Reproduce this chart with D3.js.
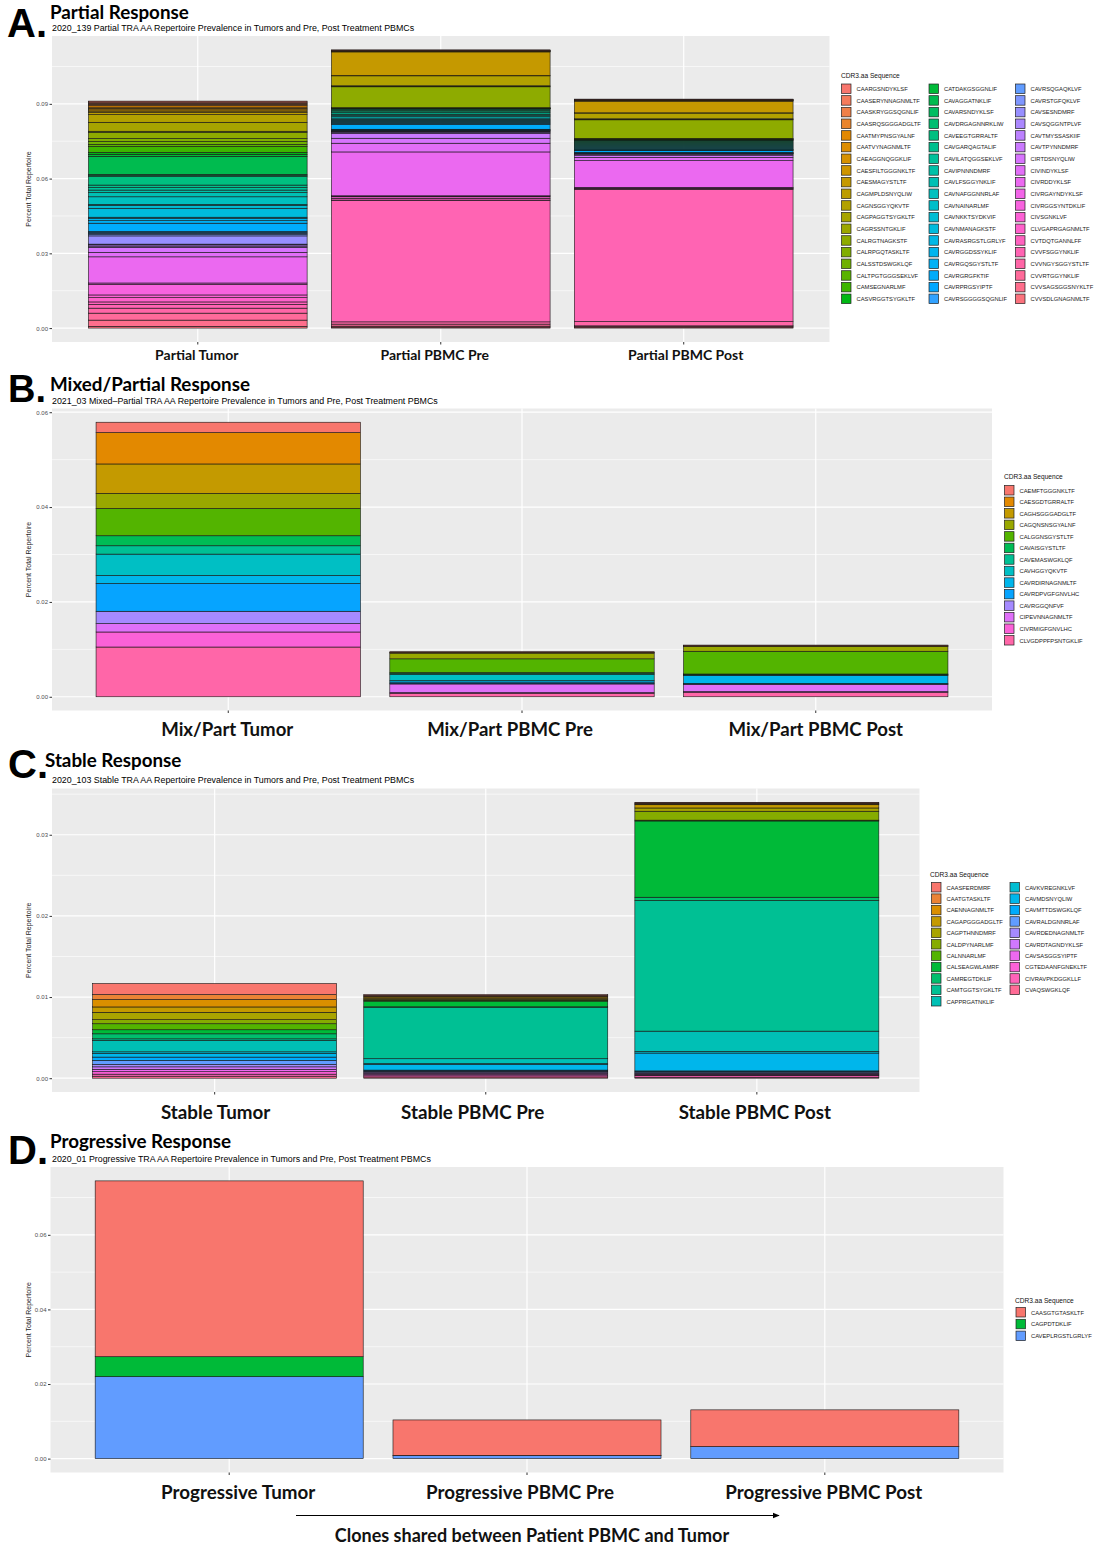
<!DOCTYPE html>
<html>
<head>
<meta charset="utf-8">
<script src="https://cdn.jsdelivr.net/npm/d3@7"></script>
<style>
  body { margin: 0; background: #fff; }
  svg { display: block; }
</style>
</head>
<body>
<svg id="fig" width="1094" height="1546"></svg>
<script>
// ---------------- Panel A: Partial response ----------------
const partialSeqs = [
  "CAARGSNDYKLSF","CAASERYNNAGNMLTF","CAASKRYGGSQGNLIF","CAASRQSGGGADGLTF","CAATMYPNSGYALNF",
  "CAATVYNAGNMLTF","CAEAGGNQGGKLIF","CAESFILTGGGNKLTF","CAESMAGYSTLTF","CAGMPLDSNYQLIW",
  "CAGNSGGYQKVTF","CAGPAGGTSYGKLTF","CAGRSSNTGKLIF","CALRGTNAGKSTF","CALRPGQTASKLTF",
  "CALSSTDSWGKLQF","CALTPGTGGGSEKLVF","CAMSEGNARLMF","CASVRGGTSYGKLTF",
  "CATDAKGSGGNLIF","CAVAGGATNKLIF","CAVARSNDYKLSF","CAVDRGAGNNRKLIW","CAVEEGTGRRALTF",
  "CAVGARQAGTALIF","CAVILATQGGSEKLVF","CAVIPNNNDMRF","CAVLFSGGYNKLIF","CAVNAFGGNNRLAF",
  "CAVNAINARLMF","CAVNKKTSYDKVIF","CAVNMANAGKSTF","CAVRASRGSTLGRLYF","CAVRGGDSSYKLIF",
  "CAVRGQSGYSTLTF","CAVRGRGFKTIF","CAVRPRGSYIPTF","CAVRSGGGGSQGNLIF",
  "CAVRSQGAQKLVF","CAVRSTGFQKLVF","CAVSESNDMRF","CAVSQGGNTPLVF","CAVTMYSSASKIIF",
  "CAVTPYNNDMRF","CIRTDSNYQLIW","CIVINDYKLSF","CIVRDDYKLSF","CIVRGAYNDYKLSF",
  "CIVRGGSYNTDKLIF","CIVSGNKLVF","CLVGAPRGAGNMLTF","CVTDQTGANNLFF","CVVFSGGYNKLIF",
  "CVVNGYSGGYSTLTF","CVVRTGGYNKLIF","CVVSAGSGGSNYKLTF","CVVSDLGNAGNMLTF"
];
const partialCats = ["Partial Tumor", "Partial PBMC Pre", "Partial PBMC Post"];
const partialTumor = [
  .0004,.0005,.0004,.0005,.0006,.0005,.0006,.0005,.0006,.0008,
  .0031,.0036,.0004,.0025,.0012,.0012,.0008,.0024,.0008,.0008,
  .0072,.0005,.0004,.0034,.0010,.0010,.0010,.0017,.0031,.0003,
  .0012,.0036,.0004,.0010,.0010,.0033,.0004,.0004,.0005,.0005,
  .0033,.0003,.0005,.0005,.0020,.0018,.0105,.0005,.0043,.0011,
  .0017,.0010,.0015,.0020,.0028,.0025,.0007
];
const partialPre = [
  .0001,.0001,.0001,.0001,.0001,.0001,.0001,.0001,.0095,.0001,
  .0040,.0002,.0002,.0084,.0001,.00005,.00005,.0001,.00005,.00005,
  .0001,.00005,.0006,.0005,.0004,.0006,.0005,.0004,.0006,.0005,
  .0004,.0004,.0004,.0004,.0004,.0020,.0002,.0002,.0002,.0001,
  .0003,.0003,.0003,.0020,.0020,.0035,.0176,.0001,.0003,.0006,
  .0007,.0002,.0487,.0009,.0008,.0004,.0004
];
const partialPost = [
  .0001,.0001,.0001,.0001,.0001,.0001,.0001,.0001,.0047,.0001,
  .0023,.0002,.0002,.0075,.0001,.0001,.0001,.0001,.0001,.0001,
  .0001,.0001,.0004,.0004,.0004,.0004,.0004,.0004,.0004,.0004,
  .0004,.0001,.0001,.0001,.0001,.0008,.0001,.0001,.0001,.0001,
  .0001,.0001,.0001,.0006,.0007,.0013,.0108,.0001,.0001,.0002,
  .0002,.0002,.0530,.0017,.0001,.0004,.0004
];
const partialTicks = [0, 0.03, 0.06, 0.09];

// ---------------- Panel B: Mixed/Partial response ----------------
const mixedSeqs = [
  "CAEMFTGGGNKLTF","CAESGDTGRRALTF","CAGHSGGGADGLTF","CAGQNSNSGYALNF","CALGGNSGYSTLTF",
  "CAVAISGYSTLTF","CAVEMASWGKLQF","CAVHGGYQKVTF","CAVRDIRNAGNMLTF","CAVRDPVGFGNVLHC",
  "CAVRGGQNFVF","CIPEVNNAGNMLTF","CIVRMIGFGNVLHC","CLVGDPPFPSNTGKLIF"
];
const mixedCats = ["Mix/Part Tumor", "Mix/Part PBMC Pre", "Mix/Part PBMC Post"];
const mixedTumor = [.00218,.00662,.0062,.00317,.00577,.00211,.00176,.00451,.00169,.00585,.00261,.00176,.00317,.01049];
const mixedPre   = [.0001,.0001,.0001,.0012,.0029,.0002,.0002,.0013,.0003,.0003,.0001,.0018,.0002,.0007];
const mixedPost  = [.0001,.0001,.0001,.0010,.0048,.0001,.0001,.0001,.0017,.0001,.0001,.0015,.0002,.0009];
const mixedTicks = [0, 0.02, 0.04, 0.06];

// ---------------- Panel C: Stable response ----------------
const stableSeqs = [
  "CAASFERDMRF","CAATGTASKLTF","CAENNAGNMLTF","CAGAPGGGADGLTF","CAGPTHNNDMRF",
  "CALDPYNARLMF","CALNNARLMF","CALSEAGWLAMRF","CAMREGTDKLIF","CAMTGGTSYGKLTF",
  "CAPPRGATNKLIF","CAVKVREGNKLVF","CAVMDSNYQLIW","CAVMTTDSWGKLQF","CAVRALDGNNRLAF",
  "CAVRDEDNAGNMLTF","CAVRDTAGNDYKLSF","CAVSASGGSYIPTF","CGTEDAANFGNEKLTF","CIVRAVPKDGGKLLF",
  "CVAQSWGKLQF"
];
const stableCats = ["Stable Tumor", "Stable PBMC Pre", "Stable PBMC Post"];
const stableTumor = [.00136,.00062,.00091,.00066,.00091,.0005,.00074,.0005,.00062,.0002,.0014,.0002,.00045,.0004,.0005,.0003,.0003,.0003,.0003,.00025,.00025];
const stablePre   = [.0001,.0001,.0001,.0002,.0001,.0001,.0001,.0007,.0001,.0063,.0006,.0001,.0007,.0001,.0001,.0001,.0001,.00015,.00015,.00015,.00015];
const stablePost  = [.0001,.0001,.0001,.0004,.0004,.0011,.0001,.0094,.0004,.0161,.0025,.0002,.0022,.0001,.0001,.0001,.0001,.0001,.0001,.0002,.0001];
const stableTicks = [0, 0.01, 0.02, 0.03];

// ---------------- Panel D: Progressive response ----------------
const progSeqs = ["CAASGTGTASKLTF", "CAGPDTDKLIF", "CAVEPLRGSTLGRLYF"];
const progCats = ["Progressive Tumor", "Progressive PBMC Pre", "Progressive PBMC Post"];
const progTumor = [.04714, .00536, .02196];
const progPre   = [.00950, .00001, .00086];
const progPost  = [.00986, .00001, .00320];
const progTicks = [0, 0.02, 0.04, 0.06];

// ggplot's default discrete palette: hcl (polar CIE-LUV) at c = 100, l = 65
function hclLuv(h, c, l) {
  const WY = 100, Wu = 0.1978398, Wv = 0.4683363;
  const hr = h * Math.PI / 180;
  const U = c * Math.cos(hr), V = c * Math.sin(hr);
  const Y = WY * (l > 7.999592 ? Math.pow((l + 16) / 116, 3) : l / 903.3);
  const u = U / (13 * l) + Wu, v = V / (13 * l) + Wv;
  const X = 9.0 * Y * u / (4 * v);
  const Z = -X / 3 - 5 * Y + 3 * Y / v;
  const gam = t => t > 0.00304 ? 1.055 * Math.pow(t, 1 / 2.4) - 0.055 : 12.92 * t;
  const to255 = t => Math.round(255 * Math.max(0, Math.min(1, gam(t))));
  const r = to255((3.240479 * X - 1.537150 * Y - 0.498535 * Z) / WY);
  const g = to255((-0.969256 * X + 1.875992 * Y + 0.041556 * Z) / WY);
  const b = to255((0.055648 * X - 0.204043 * Y + 1.057311 * Z) / WY);
  return d3.rgb(r, g, b).formatHex();
}
function huePal(n) { return d3.range(n).map(i => hclLuv(15 + 360 * i / n, 100, 65)); }

const svg = d3.select("#fig");
const SANS = "'Liberation Sans', Arial, sans-serif";
const HEAD = "Lato, 'Open Sans', sans-serif";

function drawPanel(p) {
  const g = svg.append("g");
  const colors = huePal(p.seqs.length);
  const b = p.box;

  // header: letter, title, subtitle
  g.append("text").attr("x", p.letterX).attr("y", p.letterY).text(p.letter)
    .attr("font-family", SANS).attr("font-weight", "bold").attr("font-size", p.letterSize || 40).attr("fill", "#000");
  g.append("text").attr("x", p.titleX).attr("y", p.titleY).text(p.title)
    .attr("font-family", HEAD).attr("font-weight", "bold").attr("font-size", 18.8).attr("fill", "#000");
  g.append("text").attr("x", 52).attr("y", p.subY).text(p.subtitle)
    .attr("font-family", SANS).attr("font-size", 8.85).attr("fill", "#000");

  const x = d3.scaleBand().domain(p.cats).range([b.x0, b.x1]).paddingInner(0.1).paddingOuter(0.15);
  const ymax = d3.max(p.series, s => d3.sum(s));
  const y = d3.scaleLinear().domain([-0.05 * ymax, 1.05 * ymax]).range([b.y1, b.y0]);

  // panel background and grid
  g.append("rect").attr("x", b.x0).attr("y", b.y0).attr("width", b.x1 - b.x0).attr("height", b.y1 - b.y0)
    .attr("fill", "#EBEBEB");
  const step = p.ticks[1] - p.ticks[0];
  const minor = p.ticks.map(t => t + step / 2).filter(t => t < y.domain()[1]);
  g.selectAll(null).data(minor).join("line")
    .attr("x1", b.x0).attr("x2", b.x1).attr("y1", d => y(d)).attr("y2", d => y(d))
    .attr("stroke", "#fff").attr("stroke-width", 0.6);
  g.selectAll(null).data(p.ticks).join("line")
    .attr("x1", b.x0).attr("x2", b.x1).attr("y1", d => y(d)).attr("y2", d => y(d))
    .attr("stroke", "#fff").attr("stroke-width", 1.2);
  g.selectAll(null).data(p.cats).join("line")
    .attr("x1", d => x(d) + x.bandwidth() / 2).attr("x2", d => x(d) + x.bandwidth() / 2)
    .attr("y1", b.y0).attr("y2", b.y1)
    .attr("stroke", "#fff").attr("stroke-width", 1.2);

  // stacked bars: first sequence level sits at the top of each stack
  p.cats.forEach((cat, j) => {
    const vals = p.series[j];
    let cum = 0;
    const segs = [];
    for (let i = vals.length - 1; i >= 0; i--) {
      segs.push({ i, y0: cum, y1: cum + vals[i] });
      cum += vals[i];
    }
    g.append("g").selectAll("rect").data(segs).join("rect")
      .attr("x", x(cat)).attr("width", x.bandwidth())
      .attr("y", d => y(d.y1)).attr("height", d => Math.max(0, y(d.y0) - y(d.y1)))
      .attr("fill", d => colors[d.i])
      .attr("stroke", "#141414").attr("stroke-width", 0.6);
  });

  // axes
  const ya = g.append("g").attr("transform", `translate(${b.x0},0)`)
    .call(d3.axisLeft(y).tickValues(p.ticks).tickFormat(d3.format(".2f")).tickSize(2.5).tickPadding(1.5));
  ya.select(".domain").remove();
  ya.selectAll(".tick line").attr("stroke", "#333");
  ya.selectAll(".tick text").attr("font-family", SANS).attr("font-size", 6).attr("fill", "#4D4D4D");
  const xa = g.append("g").attr("transform", `translate(0,${b.y1})`)
    .call(d3.axisBottom(x).tickSize(2.5).tickFormat(""));
  xa.select(".domain").remove();
  xa.selectAll(".tick line").attr("stroke", "#333");

  g.append("text")
    .attr("transform", `translate(31,${(b.y0 + b.y1) / 2}) rotate(-90)`)
    .attr("text-anchor", "middle").text("Percent Total Repertoire")
    .attr("font-family", SANS).attr("font-size", 7).attr("fill", "#222");

  // category labels under the panel (text boxes nudged sideways)
  g.selectAll(null).data(p.cats).join("text")
    .attr("x", (d, i) => x(d) + x.bandwidth() / 2 + p.labelNudge[i]).attr("y", p.labelY)
    .attr("text-anchor", "middle").text(d => d)
    .attr("font-family", HEAD).attr("font-weight", "bold").attr("font-size", p.labelSize).attr("fill", "#111");

  // legend
  const L = p.legend;
  g.append("text").attr("x", L.x).attr("y", L.titleY).text("CDR3.aa Sequence")
    .attr("font-family", SANS).attr("font-size", 6.6).attr("fill", "#111");
  const perCol = Math.ceil(p.seqs.length / L.cols.length);
  const items = p.seqs.map((s, i) => ({ s, i, col: Math.floor(i / perCol), row: i % perCol }));
  const li = g.append("g").selectAll("g").data(items).join("g")
    .attr("transform", d => `translate(${L.cols[d.col]},${L.keyTop + d.row * L.step})`);
  li.append("rect").attr("width", 9.5).attr("height", 9.5)
    .attr("fill", d => colors[d.i]).attr("stroke", "#222").attr("stroke-width", 0.7);
  li.append("text").attr("x", 15).attr("y", 7).text(d => d.s)
    .attr("font-family", SANS).attr("font-size", 5.8).attr("fill", "#1a1a1a");
}

drawPanel({
  letter: "A.", letterX: 7, letterY: 37,
  title: "Partial Response", titleX: 50, titleY: 19,
  subtitle: "2020_139 Partial TRA AA Repertoire Prevalence in Tumors and Pre, Post Treatment PBMCs", subY: 30.5,
  seqs: partialSeqs, cats: partialCats, series: [partialTumor, partialPre, partialPost], ticks: partialTicks,
  box: { x0: 52, x1: 829.5, y0: 36, y1: 342 },
  labelY: 360, labelSize: 14, labelNudge: [-1, -6, 2],
  legend: { x: 841, titleY: 77.5, cols: [841.5, 929, 1015.5], keyTop: 84, step: 11.67 }
});
drawPanel({
  letter: "B.", letterX: 8, letterY: 402, letterSize: 38,
  title: "Mixed/Partial Response", titleX: 50, titleY: 391,
  subtitle: "2021_03 Mixed\u2013Partial TRA AA Repertoire Prevalence in Tumors and Pre, Post Treatment PBMCs", subY: 403.5,
  seqs: mixedSeqs, cats: mixedCats, series: [mixedTumor, mixedPre, mixedPost], ticks: mixedTicks,
  box: { x0: 52, x1: 992, y0: 408.5, y1: 710.5 },
  labelY: 735.5, labelSize: 18.6, labelNudge: [-1, -12, 0],
  legend: { x: 1004, titleY: 478.5, cols: [1004.5], keyTop: 485.5, step: 11.54 }
});
drawPanel({
  letter: "C.", letterX: 8, letterY: 778,
  title: "Stable Response", titleX: 45, titleY: 767,
  subtitle: "2020_103 Stable TRA AA Repertoire Prevalence in Tumors and Pre, Post Treatment PBMCs", subY: 783,
  seqs: stableSeqs, cats: stableCats, series: [stableTumor, stablePre, stablePost], ticks: stableTicks,
  box: { x0: 52, x1: 919.5, y0: 788.5, y1: 1092 },
  labelY: 1118.5, labelSize: 18.8, labelNudge: [1, -13, -2],
  legend: { x: 930, titleY: 876.5, cols: [931.5, 1010], keyTop: 882.5, step: 11.4 }
});
drawPanel({
  letter: "D.", letterX: 8, letterY: 1164,
  title: "Progressive Response", titleX: 50, titleY: 1148,
  subtitle: "2020_01 Progressive TRA AA Repertoire Prevalence in Tumors and Pre, Post Treatment PBMCs", subY: 1161.5,
  seqs: progSeqs, cats: progCats, series: [progTumor, progPre, progPost], ticks: progTicks,
  box: { x0: 50.5, x1: 1003.5, y0: 1167, y1: 1472.5 },
  labelY: 1498.5, labelSize: 18.8, labelNudge: [9, -7, -1],
  legend: { x: 1015, titleY: 1302.5, cols: [1016], keyTop: 1307.5, step: 11.8 }
});

// bottom annotation arrow
const defs = svg.append("defs");
defs.append("marker").attr("id", "arrowHead").attr("viewBox", "0 0 10 10")
  .attr("refX", 9).attr("refY", 5).attr("markerWidth", 7).attr("markerHeight", 7).attr("orient", "auto")
  .append("path").attr("d", "M0,1 L10,5 L0,9 Z").attr("fill", "#000");
svg.append("line").attr("x1", 296).attr("x2", 779).attr("y1", 1515.5).attr("y2", 1515.5)
  .attr("stroke", "#000").attr("stroke-width", 1).attr("marker-end", "url(#arrowHead)");
svg.append("text").attr("x", 532).attr("y", 1541.5).attr("text-anchor", "middle")
  .text("Clones shared between Patient PBMC and Tumor")
  .attr("font-family", HEAD).attr("font-weight", "bold").attr("font-size", 18).attr("fill", "#111");
</script>
</body>
</html>
